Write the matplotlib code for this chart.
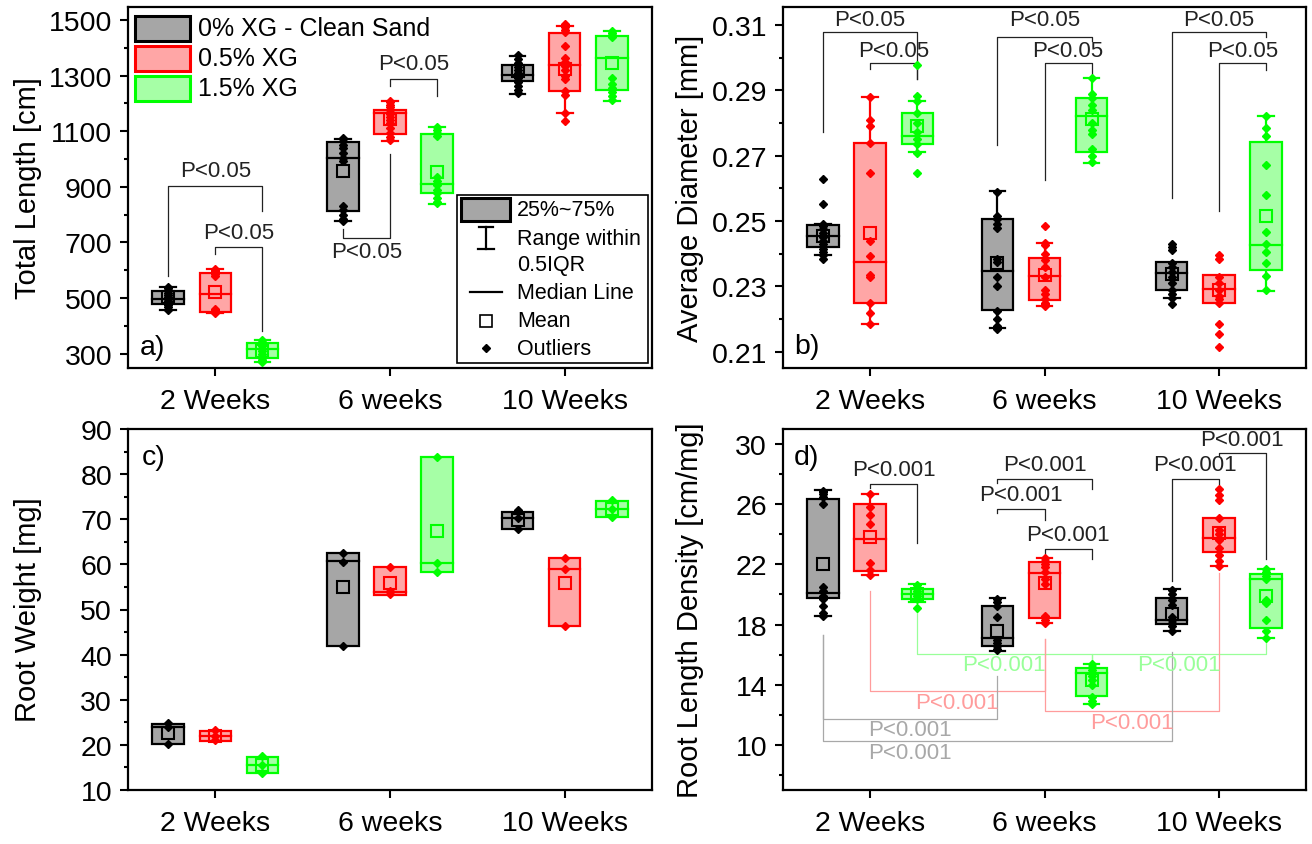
import numpy as np
import matplotlib.pyplot as plt
from matplotlib.patches import Rectangle
from matplotlib.ticker import FixedLocator, FormatStrFormatter

plt.rcParams['font.family'] = ['Liberation Sans', 'DejaVu Sans']

W, H = 1312, 845

weeks = ["2 Weeks", "6 weeks", "10 Weeks"]
groups = ["0% XG - Clean Sand", "0.5% XG", "1.5% XG"]
edge_colors = ["#000000", "#FF0000", "#00FF00"]
fill_colors = ["#A6A6A6", "#FFA6A6", "#A6FFA6"]
offsets = [-0.27, 0.0, 0.27]
box_w = 0.18
cap_w = 0.09

# rows = group (0%, 0.5%, 1.5% XG), columns = week (2, 6, 10)
# ---- a) total length [cm]
length_q1 = [[480, 812, 1279], [448, 1090, 1243], [285, 876, 1249]]
length_q3 = [[525, 1060, 1339], [590, 1177, 1453], [338, 1090, 1441]]
length_med = [[497, 1003, 1302], [515, 1164, 1338], [318, 910, 1362]]
length_mean = [[505, 956, 1317], [520, 1144, 1324], [310, 954, 1344]]
length_wlo = [[455, 778, 1234], [446, 1066, 1165], [270, 838, 1210]]
length_whi = [[540, 1072, 1371], [605, 1210, 1479], [348, 1115, 1459]]
length_pts = [
    [[540, 535, 528, 518, 510, 502, 496, 490, 484, 476, 468, 455],
     [1075, 1065, 1052, 1040, 1022, 1005, 992, 830, 815, 800, 785, 778],
     [1375, 1360, 1345, 1332, 1320, 1310, 1300, 1290, 1278, 1262, 1248, 1236]],
    [[605, 600, 596, 590, 585, 580, 460, 455, 450, 446],
     [1210, 1204, 1196, 1186, 1175, 1162, 1150, 1140, 1128, 1110, 1095, 1080, 1068],
     [1485, 1476, 1466, 1456, 1405, 1365, 1350, 1335, 1320, 1300, 1288, 1245, 1230, 1165, 1135]],
    [[348, 342, 336, 326, 318, 310, 300, 290, 283, 276, 270],
     [1115, 1105, 1095, 1082, 935, 920, 905, 890, 876, 860, 846, 840],
     [1460, 1455, 1447, 1440, 1290, 1270, 1256, 1240, 1226, 1212]],
]

# ---- b) average diameter [mm]
diam_q1 = [[0.2419, 0.2227, 0.2290], [0.2248, 0.2259, 0.2250], [0.2736, 0.2710, 0.2351]]
diam_q3 = [[0.2489, 0.2506, 0.2373], [0.2739, 0.2387, 0.2335], [0.2831, 0.2876, 0.2741]]
diam_med = [[0.2454, 0.2346, 0.2342], [0.2373, 0.2331, 0.2292], [0.2759, 0.2822, 0.2427]]
diam_mean = [[0.2455, 0.2372, 0.2338], [0.2463, 0.2335, 0.2288], [0.2790, 0.2812, 0.2516]]
diam_wlo = [[0.2395, 0.2171, 0.2263], [0.2186, 0.2240, 0.2250], [0.2710, 0.2677, 0.2286]]
diam_whi = [[0.2492, 0.2591, 0.2373], [0.2878, 0.2433, 0.2335], [0.2866, 0.2937, 0.2820]]
diam_pts = [
    [[0.2628, 0.2552, 0.2492, 0.2485, 0.2475, 0.2462, 0.2450, 0.2440, 0.2430, 0.2415, 0.2405, 0.2395, 0.2385],
     [0.2590, 0.2515, 0.2505, 0.2490, 0.2480, 0.2385, 0.2375, 0.2330, 0.2300, 0.2225, 0.2200, 0.2180, 0.2170],
     [0.2430, 0.2420, 0.2410, 0.2370, 0.2360, 0.2345, 0.2330, 0.2310, 0.2290, 0.2275, 0.2263, 0.2245]],
    [[0.2878, 0.2810, 0.2790, 0.2738, 0.2646, 0.2439, 0.2393, 0.2335, 0.2330, 0.2250, 0.2217, 0.2186],
     [0.2484, 0.2433, 0.2425, 0.2400, 0.2380, 0.2360, 0.2330, 0.2288, 0.2275, 0.2260, 0.2250, 0.2245, 0.2240],
     [0.2395, 0.2385, 0.2330, 0.2310, 0.2290, 0.2270, 0.2260, 0.2250, 0.2186, 0.2153, 0.2113]],
    [[0.2978, 0.2883, 0.2866, 0.2832, 0.2800, 0.2772, 0.2750, 0.2736, 0.2709, 0.2647],
     [0.2937, 0.2890, 0.2875, 0.2855, 0.2840, 0.2800, 0.2780, 0.2765, 0.2720, 0.2700, 0.2680],
     [0.2820, 0.2784, 0.2760, 0.2672, 0.2580, 0.2466, 0.2430, 0.2405, 0.2370, 0.2331, 0.2290]],
]

# ---- c) root weight [mg]
weight_q1 = [[20.3, 42.0, 67.8], [20.8, 53.2, 46.4], [13.8, 58.3, 70.5]]
weight_q3 = [[24.7, 62.5, 71.7], [23.0, 59.4, 61.4], [17.3, 83.7, 74.0]]
weight_med = [[24.0, 60.7, 70.3], [21.9, 53.9, 58.9], [15.5, 60.3, 72.3]]
weight_mean = [[22.7, 55.0, 69.8], [21.9, 55.8, 55.8], [15.5, 67.5, 72.3]]
weight_pts = [
    [[24.9, 24.0, 20.1], [62.6, 60.6, 42.0], [72.0, 70.3, 67.8]],
    [[23.2, 22.0, 21.0], [59.5, 54.0, 53.5], [61.4, 58.9, 46.4]],
    [[17.5, 15.5, 13.8], [83.7, 60.3, 58.3], [74.2, 72.3, 70.4]],
]

# ---- d) root length density [cm/mg]
dens_q1 = [[19.75, 16.55, 18.05], [21.55, 18.44, 22.82], [19.71, 13.27, 17.78]]
dens_q3 = [[26.33, 19.22, 19.78], [26.0, 22.13, 25.11], [20.33, 15.11, 21.33]]
dens_med = [[20.09, 17.09, 18.27], [23.67, 21.44, 23.78], [20.05, 14.78, 21.0]]
dens_mean = [[22.0, 17.6, 18.73], [23.82, 20.73, 24.11], [20.05, 14.29, 19.89]]
dens_wlo = [[18.55, 16.22, 17.6], [21.27, 18.07, 21.89], [19.5, 12.71, 17.11]]
dens_whi = [[26.93, 19.78, 20.33], [26.71, 22.44, 25.11], [20.67, 15.4, 21.71]]
dens_pts = [
    [[26.9, 26.8, 26.7, 26.5, 26.0, 20.5, 20.2, 19.9, 19.7, 19.2, 18.8, 18.6],
     [19.7, 19.5, 19.2, 18.5, 17.0, 16.8, 16.6, 16.4, 16.3],
     [20.3, 20.0, 19.6, 19.3, 18.5, 18.3, 18.1, 17.9, 17.6]],
    [[26.7, 25.8, 25.3, 24.7, 22.1, 21.6, 21.3],
     [22.4, 22.2, 22.0, 21.8, 21.5, 21.0, 20.7, 18.6, 18.3, 18.1],
     [27.0, 26.6, 26.3, 25.1, 24.3, 24.0, 23.6, 23.1, 22.6, 22.2, 21.9]],
    [[20.6, 20.4, 20.2, 20.1, 20.0, 19.9, 19.7, 19.1],
     [15.4, 15.2, 15.0, 14.6, 14.3, 14.0, 13.2, 12.9, 12.7],
     [21.7, 21.5, 21.2, 21.0, 19.6, 19.4, 18.3, 17.6, 17.1]],
]

# y ticks per panel
length_ticks = [300, 500, 700, 900, 1100, 1300, 1500]
diam_ticks = [0.21, 0.23, 0.25, 0.27, 0.29, 0.31]
weight_ticks = [10, 20, 30, 40, 50, 60, 70, 80, 90]
dens_ticks = [10, 14, 18, 22, 26, 30]

# significance brackets: (week_l, grp_l, y_l, week_r, grp_r, y_r, y_bar, text_x, text_y, label, colour)
sig_length = [
    (0, 0, 579, 0, 2, 813, 903, 0.0, 960, "P<0.05", "#222222"),
    (0, 1, 658, 0, 2, 382, 682, 0.135, 737, "P<0.05", "#222222"),
    (1, 0, 748, 1, 1, 1018, 715, 0.865, 669, "P<0.05", "#222222"),
    (1, 1, 1263, 1, 2, 1228, 1288, 1.135, 1345, "P<0.05", "#222222"),
]
sig_diam = [
    (0, 0, 0.2771, 0, 2, 0.2936, 0.3077, 0.0, 0.3117, "P<0.05", "#222222"),
    (0, 1, 0.2965, 0, 2, 0.2936, 0.2985, 0.135, 0.3023, "P<0.05", "#222222"),
    (1, 0, 0.2733, 1, 2, 0.3051, 0.3063, 1.0, 0.3117, "P<0.05", "#222222"),
    (1, 1, 0.2624, 1, 2, 0.2944, 0.2985, 1.135, 0.3023, "P<0.05", "#222222"),
    (2, 0, 0.2571, 2, 2, 0.3063, 0.3077, 2.0, 0.3117, "P<0.05", "#222222"),
    (2, 1, 0.2532, 2, 2, 0.2962, 0.2985, 2.135, 0.3023, "P<0.05", "#222222"),
]
sig_dens = [
    (0, 1, 27.11, 0, 2, 23.44, 27.33, 0.135, 28.33, "P<0.001", "#222222"),
    (1, 0, 27.44, 1, 2, 27.0, 27.67, 1.0, 28.67, "P<0.001", "#222222"),
    (1, 0, 25.44, 1, 1, 24.93, 25.67, 0.865, 26.67, "P<0.001", "#222222"),
    (1, 1, 22.78, 1, 2, 22.33, 23.0, 1.135, 24.0, "P<0.001", "#222222"),
    (2, 0, 20.89, 2, 1, 27.33, 27.67, 1.865, 28.67, "P<0.001", "#222222"),
    (2, 1, 29.22, 2, 2, 22.38, 29.38, 2.135, 30.33, "P<0.001", "#222222"),
    (0, 2, 19.0, 1, 2, 15.4, 16.04, 0.77, 15.33, "P<0.001", "#99FF99"),
    (1, 2, 15.4, 2, 2, 17.0, 16.04, 1.77, 15.33, "P<0.001", "#99FF99"),
    (0, 1, 20.22, 1, 1, 17.04, 13.6, 0.5, 12.82, "P<0.001", "#FF9C9C"),
    (1, 1, 17.04, 2, 1, 21.44, 12.27, 1.5, 11.51, "P<0.001", "#FF9C9C"),
    (0, 0, 17.33, 1, 0, 14.56, 11.73, 0.23, 11.0, "P<0.001", "#A8A8A8"),
    (0, 0, 17.33, 2, 0, 16.16, 10.27, 0.23, 9.49, "P<0.001", "#A8A8A8"),
]


def px_axes(fig, left, top, right, bottom):
    return fig.add_axes([left / W, 1 - bottom / H, (right - left) / W, (bottom - top) / H])


def draw_group(ax, x, g, q1, q3, med, mean, wlo, whi, pts):
    ec, fc = edge_colors[g], fill_colors[g]
    lw = 1.6
    if wlo is not None and wlo < q1:
        ax.plot([x, x], [wlo, q1], color=ec, lw=lw, zorder=2)
        ax.plot([x - cap_w / 2, x + cap_w / 2], [wlo, wlo], color=ec, lw=lw, zorder=2)
    if whi is not None and whi > q3:
        ax.plot([x, x], [q3, whi], color=ec, lw=lw, zorder=2)
        ax.plot([x - cap_w / 2, x + cap_w / 2], [whi, whi], color=ec, lw=lw, zorder=2)
    ax.add_patch(Rectangle((x - box_w / 2, q1), box_w, q3 - q1,
                           facecolor=fc, edgecolor=ec, lw=lw, zorder=3))
    ax.plot([x - box_w / 2, x + box_w / 2], [med, med], color=ec, lw=lw, zorder=4)
    ax.plot([x] * len(pts), pts, 'D', ms=4.3, color=ec, mec=ec, zorder=5)
    ax.plot([x], [mean], 's', ms=9, mfc='none', mec=ec, mew=1.5, zorder=6)


def draw_panel(ax, q1, q3, med, mean, wlo, whi, pts):
    for g in range(3):
        for w in range(3):
            x = w + offsets[g]
            lo = wlo[g][w] if wlo else None
            hi = whi[g][w] if whi else None
            draw_group(ax, x, g, q1[g][w], q3[g][w], med[g][w], mean[g][w], lo, hi, pts[g][w])


def draw_sig(ax, brackets):
    for wl, gl, yl, wr, gr, yr, yb, tx, ty, label, col in brackets:
        xl, xr = wl + offsets[gl], wr + offsets[gr]
        ax.plot([xl, xl, xr, xr], [yl, yb, yb, yr], color=col, lw=0.9, zorder=1)
        ax.text(tx, ty, label, color=col, fontsize=16, ha='center', va='center', zorder=7)


def style_axes(ax, ylim, ticks, fmt=None):
    ax.set_xlim(-0.5, 2.5)
    ax.set_ylim(*ylim)
    ax.set_xticks([0, 1, 2])
    ax.set_xticklabels(weeks)
    step = ticks[1] - ticks[0]
    minors = np.arange(ticks[0] - step / 2, ticks[-1] + step, step)
    ax.yaxis.set_major_locator(FixedLocator(ticks))
    ax.yaxis.set_minor_locator(FixedLocator(minors))
    if fmt:
        ax.yaxis.set_major_formatter(FormatStrFormatter(fmt))
    ax.tick_params(axis='both', which='major', direction='out', length=5.5, width=1.5,
                   labelsize=20.5, pad=6)
    ax.tick_params(axis='x', which='major', pad=9)
    ax.tick_params(axis='y', which='minor', direction='out', length=3, width=1.5)
    ax.tick_params(axis='x', which='minor', bottom=False)
    for s in ax.spines.values():
        s.set_linewidth(1.6)


fig = plt.figure(figsize=(W / 100, H / 100), dpi=100)

ax_a = px_axes(fig, 128, 8, 652, 369)
ax_b = px_axes(fig, 783, 8, 1306, 369)
ax_c = px_axes(fig, 128, 430, 652, 791)
ax_d = px_axes(fig, 783, 430, 1306, 791)

draw_panel(ax_a, length_q1, length_q3, length_med, length_mean, length_wlo, length_whi, length_pts)
draw_sig(ax_a, sig_length)
style_axes(ax_a, (248, 1547), length_ticks)

draw_panel(ax_b, diam_q1, diam_q3, diam_med, diam_mean, diam_wlo, diam_whi, diam_pts)
draw_sig(ax_b, sig_diam)
style_axes(ax_b, (0.205, 0.3155), diam_ticks, '%.2f')

draw_panel(ax_c, weight_q1, weight_q3, weight_med, weight_mean, None, None, weight_pts)
style_axes(ax_c, (10, 90), weight_ticks)

draw_panel(ax_d, dens_q1, dens_q3, dens_med, dens_mean, dens_wlo, dens_whi, dens_pts)
draw_sig(ax_d, sig_dens)
style_axes(ax_d, (7, 31), dens_ticks)

# panel letters
ax_a.text(0.023, 0.058, "a)", transform=ax_a.transAxes, fontsize=20.5, ha='left', va='center')
ax_b.text(0.021, 0.061, "b)", transform=ax_b.transAxes, fontsize=20.5, ha='left', va='center')
ax_c.text(0.027, 0.922, "c)", transform=ax_c.transAxes, fontsize=20.5, ha='left', va='center')
ax_d.text(0.021, 0.922, "d)", transform=ax_d.transAxes, fontsize=20.5, ha='left', va='center')

# overlay in pixel units for axis titles and legends
ov = fig.add_axes([0, 0, 1, 1])
ov.set_xlim(0, W)
ov.set_ylim(H, 0)
ov.axis('off')
ov.set_zorder(10)
ov.patch.set_alpha(0)

ov.text(28, 188, "Total Length [cm]", rotation=90, fontsize=21, ha='center', va='center')
ov.text(690, 188, "Average Diameter [mm]", rotation=90, fontsize=21, ha='center', va='center')
ov.text(28, 610, "Root Weight [mg]", rotation=90, fontsize=21, ha='center', va='center')
ov.text(690, 610, "Root Length Density [cm/mg]", rotation=90, fontsize=21, ha='center', va='center')

# group legend
for i, name in enumerate(groups):
    y0 = 17 + 30 * i
    ov.add_patch(Rectangle((135, y0), 55, 25, facecolor=fill_colors[i],
                           edgecolor=edge_colors[i], lw=2.2))
    ov.text(198, y0 + 12.5, name, fontsize=18, ha='left', va='center')

# box-chart key
ov.add_patch(Rectangle((457, 196), 191, 168, facecolor='white', edgecolor='black', lw=1.2))
ov.add_patch(Rectangle((461, 199), 49, 23, facecolor=fill_colors[0], edgecolor='black', lw=2.2))
ov.plot([486, 486], [228, 250], color='black', lw=1.6)
ov.plot([479, 493], [228, 228], color='black', lw=1.6)
ov.plot([478, 494], [250, 250], color='black', lw=1.6)
ov.plot([470, 502], [293, 293], color='black', lw=1.6)
ov.plot([486], [322], 's', ms=8.5, mfc='none', mec='black', mew=1.2)
ov.plot([486], [349], 'D', ms=4.3, color='black')
key_labels = [("25%~75%", 211), ("Range within", 239), ("0.5IQR", 266),
              ("Median Line", 294), ("Mean", 322), ("Outliers", 350)]
for txt, y in key_labels:
    ov.text(517, y, txt, fontsize=15.5, ha='left', va='center')

fig.savefig("out.png", dpi=100)
